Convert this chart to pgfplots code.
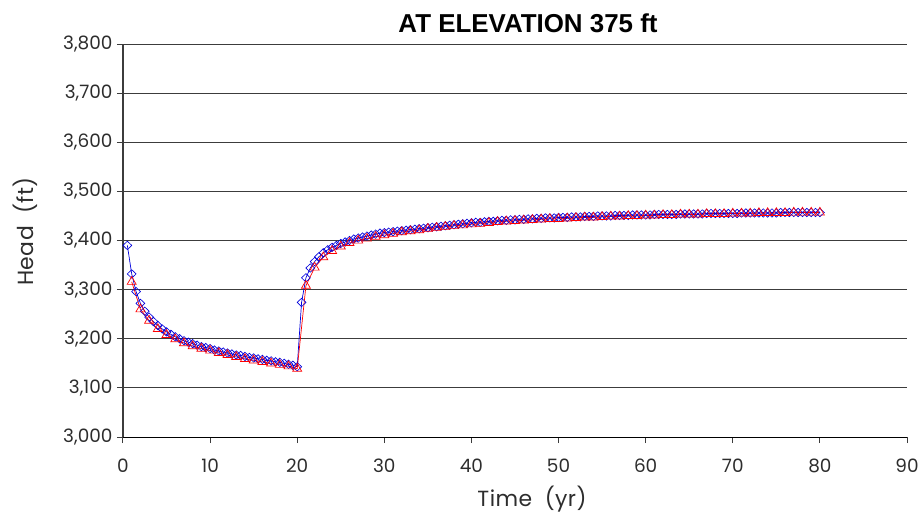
\documentclass[border=0pt]{standalone}
\usepackage{fontspec}
\setmainfont{Liberation Sans}
\newfontfamily\tickfont{Poppins}
\newfontfamily\labfont[LetterSpace=2]{Poppins}
\usepackage{pgfplots}
\pgfplotsset{compat=1.18}
\usepackage{pgfplotstable}
\definecolor{gridc}{RGB}{60,60,60}
\definecolor{tickc}{RGB}{45,45,45}
\definecolor{bl}{RGB}{0,0,220}

\pgfplotstableread{
t h
0.5 3390
1 3332
1.5 3296
2 3272
2.5 3256
3 3244
3.5 3235
4 3227
4.5 3220
5 3214
5.5 3209
6 3204
6.5 3200
7 3196
7.5 3193
8 3190
8.5 3187
9 3184
9.5 3182
10 3180
10.5 3177
11 3175
11.5 3173
12 3171
12.5 3169
13 3167
13.5 3166
14 3164
14.5 3162
15 3161
15.5 3159
16 3158
16.5 3156
17 3155
17.5 3153
18 3152
18.5 3150
19 3148
19.5 3146
20 3143
20.5 3274
21 3324
21.5 3344
22 3357
22.5 3367
23 3375
23.5 3381
24 3386
24.5 3390
25 3394
25.5 3397
26 3400
26.5 3403
27 3405
27.5 3407
28 3409
28.5 3411
29 3413
29.5 3415
30 3416
30.5 3417
31 3418
31.5 3419
32 3420
32.5 3421
33 3422
33.5 3423
34 3424
34.5 3425
35 3426
35.5 3427
36 3428
36.5 3429
37 3430
37.5 3431
38 3432
38.5 3433
39 3434
39.5 3435
40 3436
40.5 3437
41 3437
41.5 3438
42 3439
42.5 3439
43 3440
43.5 3441
44 3441
44.5 3442
45 3442
45.5 3443
46 3443
46.5 3444
47 3444
47.5 3445
48 3445
48.5 3446
49 3446
49.5 3446
50 3447
50.5 3447
51 3447
51.5 3448
52 3448
52.5 3448
53 3449
53.5 3449
54 3449
54.5 3450
55 3450
55.5 3450
56 3450
56.5 3451
57 3451
57.5 3451
58 3451
58.5 3452
59 3452
59.5 3452
60 3452
60.5 3452
61 3453
61.5 3453
62 3453
62.5 3453
63 3453
63.5 3453
64 3454
64.5 3454
65 3454
65.5 3454
66 3454
66.5 3454
67 3455
67.5 3455
68 3455
68.5 3455
69 3455
69.5 3455
70 3455
70.5 3455
71 3456
71.5 3456
72 3456
72.5 3456
73 3456
73.5 3456
74 3456
74.5 3456
75 3456
75.5 3457
76 3457
76.5 3457
77 3457
77.5 3457
78 3457
78.5 3457
79 3457
79.5 3457
80 3457
}\bluedata

\pgfplotstableread{
t h
1 3316
2 3260
3 3237
4 3220
5 3208
6 3199
7 3191
8 3185
9 3180
10 3176
11 3171
12 3167
13 3163
14 3159
15 3156
16 3153
17 3150
18 3147
19 3144
20 3139
21 3308
22 3345
23 3366
24 3379
25 3388
26 3395
27 3400
28 3404
29 3408
30 3411
31 3414
32 3417
33 3419
34 3421
35 3424
36 3426
37 3428
38 3430
39 3431
40 3433
41 3434
42 3436
43 3438
44 3439
45 3440
46 3441
47 3442
48 3443
49 3444
50 3444
51 3445
52 3446
53 3447
54 3447
55 3448
56 3449
57 3449
58 3450
59 3450
60 3451
61 3451
62 3452
63 3452
64 3453
65 3453
66 3453
67 3454
68 3454
69 3454
70 3455
71 3455
72 3455
73 3456
74 3456
75 3456
76 3456
77 3457
78 3457
79 3457
80 3457
}\reddata

\begin{document}
\begin{tikzpicture}
\begin{axis}[
  at={(0,0)}, anchor=south west,
  scale only axis,
  width=784bp, height=393bp,
  xmin=0, xmax=90, ymin=3000, ymax=3800,
  xtick={0,10,...,90},
  ytick={3000,3100,...,3800},
  axis x line=bottom, axis y line=left,
  axis line style={-, line width=1.3pt, draw=gridc},
  x axis line style={draw=black, line width=1pt},
  ymajorgrids,
  grid style={draw=gridc, line width=0.9pt},
  tick style={draw=gridc, line width=1pt},
  tick align=outside,
  major tick length=6bp,
  /pgf/number format/assume math mode=true,
  /pgf/number format/1000 sep={,},
  scaled y ticks=false,
  ticklabel style={font=\tickfont\fontsize{18.5}{20}\selectfont, text=tickc},
  yticklabel style={xshift=-1bp},
  xticklabel style={yshift=-12bp},
  clip=false,
]
\addplot[bl, line width=0.7pt, mark=diamond, mark size=4.2bp, mark options={line width=0.65pt, xscale=1.4}] table[x=t,y=h] {\bluedata};
\addplot[red, line width=0.7pt, mark=triangle, mark size=5.2bp, mark options={line width=0.7pt}] table[x=t,y=h] {\reddata};
\node[font=\fontsize{26}{30}\bfseries\selectfont, anchor=center] at ([xshift=13bp, yshift=21bp]rel axis cs:0.5,1) {AT ELEVATION 375 ft};
\node[font=\labfont\fontsize{22}{24}\selectfont, text=tickc, anchor=center] at ([xshift=17bp, yshift=-62bp]rel axis cs:0.5,0) {Time\ \ (yr)};
\node[font=\labfont\fontsize{22}{24}\selectfont, text=tickc, anchor=center, rotate=90] at ([xshift=-98bp, yshift=9bp]rel axis cs:0,0.5) {Head\ \ (ft)};
\end{axis}
\pgfresetboundingbox
\path (-123bp,-80bp) rectangle (800bp,437bp);
\end{tikzpicture}
\end{document}
